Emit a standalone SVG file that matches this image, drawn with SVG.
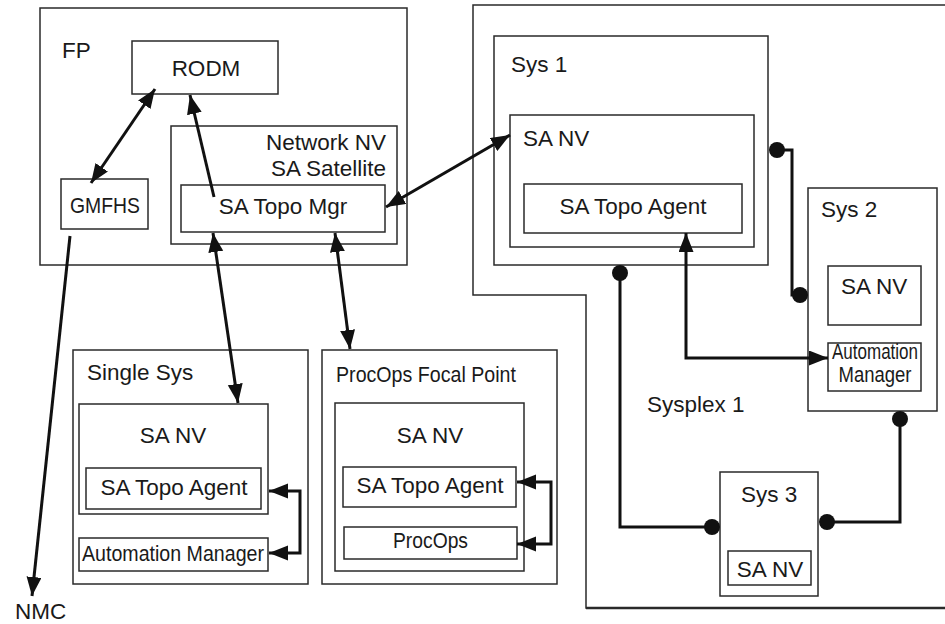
<svg xmlns="http://www.w3.org/2000/svg" width="945" height="624" viewBox="0 0 945 624">
<defs>
<style>
.box{fill:#fff;stroke:#2a2a2a;stroke-width:1.5}
.frame{fill:none;stroke:#2a2a2a;stroke-width:1.5}
.t{font-family:"Liberation Sans",Arial,sans-serif;font-size:22.5px;fill:#1a1a1a}
.m{text-anchor:middle}
.e{text-anchor:end}
.c{fill:none;stroke:#111;stroke-width:3}
.dot{fill:#111}
</style>
<marker id="ah" markerUnits="userSpaceOnUse" markerWidth="20" markerHeight="16" refX="19" refY="7.5" orient="auto-start-reverse" viewBox="0 0 20 16">
<path d="M0,0 L19,7.5 L0,15 z" fill="#111"/>
</marker>
</defs>
<rect width="945" height="624" fill="#fff"/>

<g id="sysplex1">
<path class="frame" d="M945,5 H473 V295 H586 V608 H945"/>
<line x1="586" y1="608" x2="945" y2="608" stroke="#2a2a2a" stroke-width="2.5"/>
<text class="t" x="647" y="412">Sysplex 1</text>
</g>

<g id="fp">
<rect class="box" x="40" y="8" width="367" height="257"/>
<text class="t" x="62" y="58">FP</text>
</g>
<g id="rodm">
<rect class="box" x="132" y="41" width="146" height="53"/>
<text class="t m" x="206" y="76">RODM</text>
</g>
<g id="gmfhs">
<rect class="box" x="61" y="179" width="87" height="50"/>
<text class="t" x="70" y="213" font-size="20" textLength="70" lengthAdjust="spacingAndGlyphs">GMFHS</text>
</g>
<g id="network-nv">
<rect class="box" x="171" y="126" width="226" height="118"/>
<text class="t e" x="386" y="150">Network NV</text>
<text class="t e" x="386" y="176">SA Satellite</text>
</g>
<g id="sa-topo-mgr">
<rect class="box" x="181" y="185" width="204" height="47"/>
<text class="t m" x="283" y="214">SA Topo Mgr</text>
</g>

<g id="single-sys">
<rect class="box" x="73" y="350" width="235" height="234"/>
<text class="t" x="87" y="380">Single Sys</text>
</g>
<g id="single-sa-nv">
<rect class="box" x="79" y="404" width="189" height="110"/>
<text class="t m" x="173" y="443">SA NV</text>
</g>
<g id="single-topo-agent">
<rect class="box" x="86" y="468" width="175" height="41"/>
<text class="t m" x="174" y="495">SA Topo Agent</text>
</g>
<g id="single-automation-manager">
<rect class="box" x="79" y="538" width="189" height="33"/>
<text class="t" x="82" y="561" font-size="20.5" textLength="182" lengthAdjust="spacingAndGlyphs">Automation Manager</text>
</g>

<g id="procops-focal-point">
<rect class="box" x="322" y="350" width="235" height="234"/>
<text class="t" x="336" y="382" font-size="21" textLength="180" lengthAdjust="spacingAndGlyphs">ProcOps Focal Point</text>
</g>
<g id="procops-sa-nv">
<rect class="box" x="335" y="403" width="189" height="168"/>
<text class="t m" x="430" y="443">SA NV</text>
</g>
<g id="procops-topo-agent">
<rect class="box" x="343" y="467" width="173" height="40"/>
<text class="t m" x="430" y="493">SA Topo Agent</text>
</g>
<g id="procops">
<rect class="box" x="344" y="527" width="173" height="32"/>
<text class="t" x="393" y="548" font-size="20.5" textLength="75" lengthAdjust="spacingAndGlyphs">ProcOps</text>
</g>

<g id="sys1">
<rect class="box" x="494" y="36" width="274" height="229"/>
<text class="t" x="511" y="72">Sys 1</text>
</g>
<g id="sys1-sa-nv">
<rect class="box" x="510" y="115" width="244" height="132"/>
<text class="t" x="523" y="146">SA NV</text>
</g>
<g id="sys1-topo-agent">
<rect class="box" x="524" y="184" width="218" height="49"/>
<text class="t m" x="633" y="214">SA Topo Agent</text>
</g>

<g id="sys2">
<rect class="box" x="808" y="188" width="129" height="223"/>
<text class="t" x="821" y="217">Sys 2</text>
</g>
<g id="sys2-sa-nv">
<rect class="box" x="828" y="266" width="93" height="59"/>
<text class="t" x="841" y="294">SA NV</text>
</g>
<g id="sys2-automation-manager">
<rect class="box" x="828" y="343" width="93" height="48"/>
<text class="t m" x="875" y="359" font-size="19" textLength="86" lengthAdjust="spacingAndGlyphs">Automation</text>
<text class="t m" x="875" y="382" font-size="19" textLength="73" lengthAdjust="spacingAndGlyphs">Manager</text>
</g>

<g id="sys3">
<rect class="box" x="720" y="472" width="98" height="124"/>
<text class="t" x="741" y="502">Sys 3</text>
</g>
<g id="sys3-sa-nv">
<rect class="box" x="728" y="551" width="83" height="34"/>
<text class="t m" x="770" y="577">SA NV</text>
</g>

<g id="nmc">
<text class="t" x="15" y="619">NMC</text>
</g>

<g id="connectors">
<line class="c" x1="155" y1="89" x2="91" y2="183" marker-start="url(#ah)" marker-end="url(#ah)"/>
<line class="c" x1="214" y1="197" x2="190" y2="95" marker-end="url(#ah)"/>
<line class="c" x1="70" y1="236" x2="32" y2="596" marker-end="url(#ah)"/>
<line class="c" x1="213" y1="233" x2="238" y2="403" marker-start="url(#ah)" marker-end="url(#ah)"/>
<line class="c" x1="335" y1="233" x2="350" y2="349" marker-start="url(#ah)" marker-end="url(#ah)"/>
<line class="c" x1="386" y1="207" x2="510" y2="135" marker-start="url(#ah)" marker-end="url(#ah)"/>
<path class="c" d="M269,491 H300 V553 H269" marker-start="url(#ah)" marker-end="url(#ah)"/>
<path class="c" d="M517,482 H551 V544 H517" marker-start="url(#ah)" marker-end="url(#ah)"/>
<path class="c" d="M686,233 V358 H828" marker-start="url(#ah)" marker-end="url(#ah)"/>
<path class="c" d="M777,150 H792 V295 H800"/>
<circle class="dot" cx="777" cy="150" r="8"/>
<circle class="dot" cx="800" cy="295" r="8"/>
<path class="c" d="M620,273 V527 H712"/>
<circle class="dot" cx="620" cy="273" r="8"/>
<circle class="dot" cx="712" cy="527" r="8"/>
<path class="c" d="M827,522 H900 V419"/>
<circle class="dot" cx="827" cy="522" r="8"/>
<circle class="dot" cx="900" cy="419" r="8"/>
</g>
</svg>
